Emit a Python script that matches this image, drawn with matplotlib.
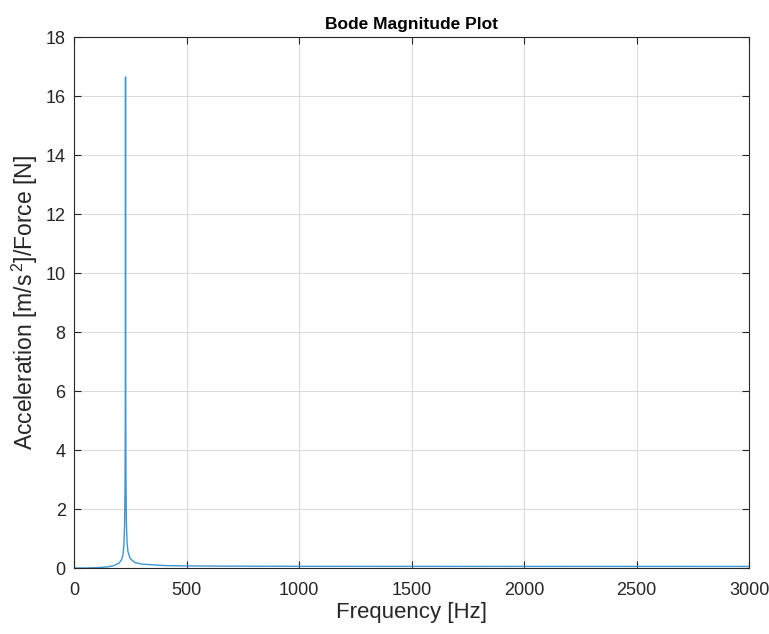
import numpy as np
import matplotlib
matplotlib.use('Agg')
import matplotlib.pyplot as plt

# frequency [Hz] and accelerance magnitude
freq = [0, 50, 100, 150, 180, 200, 210, 218, 222, 225, 227, 228, 228.6, 229,
        229.4, 230, 231, 233, 236, 240, 250, 270, 300, 400, 500, 700, 1000,
        1500, 2000, 2500, 3000]
mag = [0.0, 0.003, 0.012, 0.04, 0.09, 0.17, 0.26, 0.45, 0.8, 1.5, 2.9, 5.2, 9.5, 16.65,
       9.8, 5.6, 3.0, 1.5, 0.85, 0.55, 0.32, 0.19, 0.135, 0.085, 0.073, 0.064, 0.059,
       0.057, 0.056, 0.0555, 0.055]

x_ticks = [0, 500, 1000, 1500, 2000, 2500, 3000]
y_ticks = [0, 2, 4, 6, 8, 10, 12, 14, 16, 18]

plt.rcParams['font.family'] = ['Liberation Sans', 'DejaVu Sans']
plt.rcParams['mathtext.fontset'] = 'custom'
plt.rcParams['mathtext.rm'] = 'Liberation Sans'

fig = plt.figure(figsize=(7.69, 6.34), dpi=100)
ax = fig.add_axes([0.0962, 0.104, 0.878, 0.8375])

ax.plot(freq, mag, color='#3d96d4', linewidth=1.0)

ax.set_xlim(0, 3000)
ax.set_ylim(0, 18)
ax.set_xticks(x_ticks)
ax.set_yticks(y_ticks)
ax.grid(True, color='#dcdcdc', linewidth=0.8)
ax.set_axisbelow(True)

ax.tick_params(direction='in', top=True, right=True, length=5, width=0.8,
               colors='#262626', labelsize=13, labelcolor='#262626')
ax.tick_params(axis='x', pad=10)
ax.tick_params(axis='y', pad=6)
for s in ax.spines.values():
    s.set_color('#262626')
    s.set_linewidth(0.8)

ax.set_xlabel('Frequency [Hz]', fontsize=16, color='#262626', labelpad=2)
ax.set_ylabel('Acceleration [m/s$^{\\,2}$]/Force [N]', fontsize=16.5, color='#262626', labelpad=4)
ax.set_title('Bode Magnitude Plot', fontsize=12.5, fontweight='bold', pad=6)

fig.savefig('out.png', dpi=100)
